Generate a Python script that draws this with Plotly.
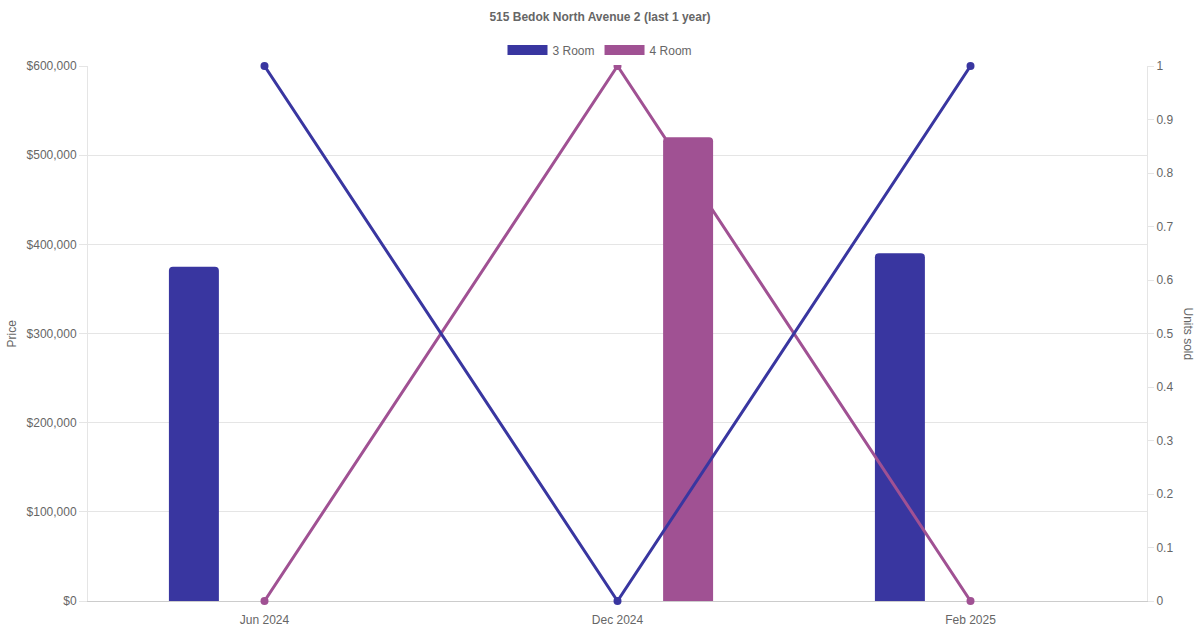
import plotly.graph_objects as go

# --- data ---
months = ["Jun 2024", "Dec 2024", "Feb 2025"]
price_3room = [375000, None, 390000]
price_4room = [None, 520000, None]
units_3room = [1, 0, 1]
units_4room = [0, 1, 0]

price_ticks = [0, 100000, 200000, 300000, 400000, 500000, 600000]
price_labels = [f"${v:,}" for v in price_ticks]
unit_ticks = [0, 0.1, 0.2, 0.3, 0.4, 0.5, 0.6, 0.7, 0.8, 0.9, 1]

BLUE = "#3936a0"
PURPLE = "#a05193"
TEXT = "#666666"
GRID = "#e5e5e5"
FONT = "Liberation Sans, Arial, sans-serif"

W, H = 1200, 630
L, R, T, B = 88, 53, 66, 29
PW, PH = W - L - R, H - T - B

# bar width ~50px in a ~353px category, centred at +/-0.2 of the category
bar_w = 0.1416

fig = go.Figure()

# draw order: blue bar < purple line < purple bar < blue line
fig.add_trace(go.Bar(
    x=months, y=price_3room, name="3 Room", marker_color=BLUE,
    width=bar_w, offset=-0.2 - bar_w / 2, showlegend=False,
    marker_line_width=0, yaxis="y",
))
fig.add_trace(go.Scatter(
    x=months, y=units_4room, mode="lines+markers", name="4 Room",
    line=dict(color=PURPLE, width=3), marker=dict(size=8, color=PURPLE),
    cliponaxis=False, showlegend=False, yaxis="y2",
))
fig.add_trace(go.Bar(
    x=months, y=price_4room, name="4 Room", marker_color=PURPLE,
    width=bar_w, offset=0.2 - bar_w / 2, showlegend=False,
    marker_line_width=0, yaxis="y3",
))
fig.add_trace(go.Scatter(
    x=months, y=units_3room, mode="lines+markers", name="3 Room",
    line=dict(color=BLUE, width=3), marker=dict(size=8, color=BLUE),
    cliponaxis=False, showlegend=False, yaxis="y4",
))

# legend-only entries (wide colour boxes)
for name, col in [("3 Room", BLUE), ("4 Room", PURPLE)]:
    fig.add_trace(go.Scatter(
        x=[None], y=[None], mode="lines", name=name,
        line=dict(color=col, width=12), showlegend=True,
    ))

fig.update_layout(
    width=W, height=H,
    margin=dict(l=L, r=R, t=T, b=B, autoexpand=False),
    paper_bgcolor="white", plot_bgcolor="white",
    font=dict(family=FONT, size=12, color=TEXT),
    title=dict(
        text="<b>515 Bedok North Avenue 2 (last 1 year)</b>",
        x=0.5, xanchor="center", y=1 - 17 / H, yanchor="middle",
        font=dict(size=12, color=TEXT),
    ),
    barmode="overlay",
    barcornerradius=4,
    legend=dict(
        orientation="h", xref="container", x=0.5, xanchor="center",
        y=1 + 16 / PH, yanchor="middle",
        itemwidth=40, font=dict(size=12, color=TEXT),
    ),
    xaxis=dict(
        type="category", categoryorder="array", categoryarray=months,
        showgrid=False, showline=True, linecolor="#cccccc", linewidth=1,
        ticks="", tickfont=dict(size=12, color=TEXT), ticklabelstandoff=8,
        range=[-0.5, 2.5], automargin=False, layer="below traces",
    ),
    yaxis=dict(
        range=[0, 600000], tickvals=price_ticks, ticktext=price_labels,
        showgrid=True, gridcolor=GRID, zeroline=False,
        showline=True, linecolor=GRID,
        ticks="outside", ticklen=8, tickcolor=GRID,
        tickfont=dict(size=12, color=TEXT), automargin=False,
        layer="below traces",
    ),
    yaxis2=dict(
        overlaying="y", side="right",
        range=[0, 1], tickvals=unit_ticks,
        showgrid=False, zeroline=False,
        showline=True, linecolor=GRID,
        ticks="outside", ticklen=6, tickcolor=GRID,
        tickfont=dict(size=12, color=TEXT), automargin=False,
        layer="below traces",
    ),
    yaxis3=dict(overlaying="y", range=[0, 600000], visible=False),
    yaxis4=dict(overlaying="y", range=[0, 1], visible=False),
    annotations=[
        dict(
            text="Price", textangle=-90,
            xref="paper", yref="paper", x=-(L - 11) / PW, y=0.5,
            xanchor="center", yanchor="middle", showarrow=False,
            font=dict(size=12, color=TEXT),
        ),
        dict(
            text="Units sold", textangle=90,
            xref="paper", yref="paper", x=1 + 41 / PW, y=0.5,
            xanchor="center", yanchor="middle", showarrow=False,
            font=dict(size=12, color=TEXT),
        ),
    ],
)

# drop the browser's default body margin so the figure sits at (0, 0)
fig.write_html(
    "out.html",
    config={"displayModeBar": False},
    post_script="document.body.style.margin='0';",
)
